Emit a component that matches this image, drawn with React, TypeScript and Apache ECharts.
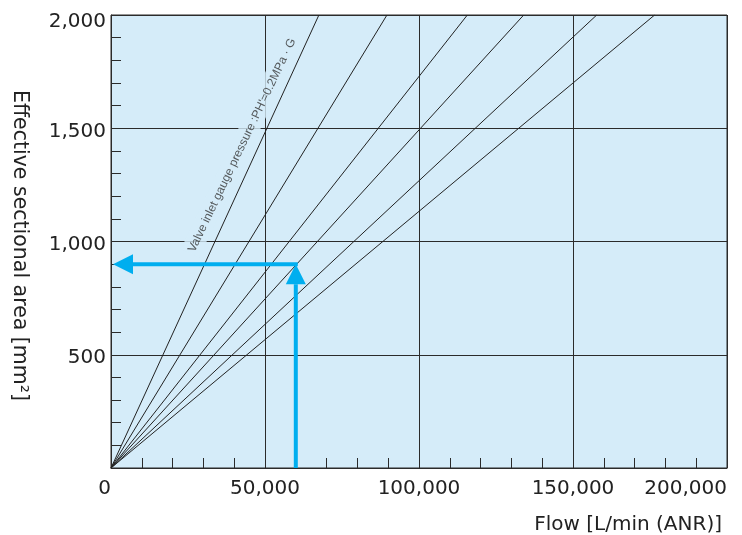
import React, { useEffect, useRef } from "react";
import * as echarts from "echarts";

// Flow [L/min (ANR)] at which each pressure line reaches 2,000 mm² (lines start at origin)
const lineEndFlows = [67500, 89600, 115700, 134000, 157700, 176500];
const lineEndArea = 2000;
// Example reading (arrow): flow 60,000 -> area 900
const exampleFlow = 60000;
const exampleArea = 900;
// Label anchor (data coords) for the rotated annotation
const annotationPos = [42400, 1426];
const annotationText = "Valve inlet gauge pressure :PH'=0.2MPa · G";
const xTicks = [0, 50000, 100000, 150000, 200000];
const yTicks = [0, 500, 1000, 1500, 2000];

const CYAN = "#00aeef";
const DARK = "#2b2b2b";
const BG = "#d5ecf9";
const FONT = "DejaVu Sans";

const fmt = (v: number) => v.toLocaleString("en-US");

export default function App() {
  const ref = useRef<HTMLDivElement>(null);
  useEffect(() => {
    if (!ref.current) return;
    const chart = echarts.init(ref.current, undefined, { renderer: "svg" });
    const lineSeries = lineEndFlows.map((f, i) => ({
      type: "line",
      name: "p" + i,
      data: [
        [0, 0],
        [f, lineEndArea],
      ],
      symbol: "none",
      lineStyle: { color: "#222", width: 1 },
      silent: true,
      z: 3,
    }));
    const yMax = yTicks[yTicks.length - 1];
    chart.setOption({
      animation: false,
      grid: {
        left: 111,
        top: 15,
        right: 15,
        bottom: 67,
        show: true,
        backgroundColor: BG,
        borderColor: DARK,
        borderWidth: 1,
      },
      xAxis: {
        type: "value",
        min: xTicks[0],
        max: xTicks[xTicks.length - 1],
        interval: 50000,
        axisLine: { show: true, lineStyle: { color: DARK, width: 1 } },
        axisTick: { show: true, inside: true, length: 10, lineStyle: { color: DARK } },
        minorTick: { show: true, splitNumber: 5, length: 10, lineStyle: { color: DARK, width: 1 } },
        splitLine: { show: true, lineStyle: { color: DARK, width: 1 } },
        axisLabel: {
          formatter: (v: number) => fmt(v),
          fontFamily: FONT,
          fontSize: 20,
          color: "#222",
          margin: 9,
          alignMinLabel: "right",
          alignMaxLabel: "right",
        },
        name: "Flow [L/min (ANR)]",
        nameLocation: "end",
        nameGap: -5,
        nameTextStyle: {
          fontFamily: FONT,
          fontSize: 20,
          color: "#222",
          align: "right",
          verticalAlign: "top",
          padding: [45, 0, 0, 0],
        },
      },
      yAxis: {
        type: "value",
        min: yTicks[0],
        max: yMax,
        interval: 500,
        axisLine: { show: true, lineStyle: { color: DARK, width: 1 } },
        axisTick: { show: true, inside: true, length: 10, lineStyle: { color: DARK } },
        minorTick: { show: true, splitNumber: 5, length: 10, lineStyle: { color: DARK, width: 1 } },
        splitLine: { show: true, lineStyle: { color: DARK, width: 1 } },
        axisLabel: {
          formatter: (v: number) =>
            v === 0 ? "" : v === yMax ? "{t|" + fmt(v) + "}" : "{n|" + fmt(v) + "}",
          fontFamily: FONT,
          fontSize: 20,
          color: "#222",
          margin: 5,
          rich: {
            t: { fontFamily: FONT, fontSize: 20, color: "#222", padding: [10, 0, 0, 0] },
            n: { fontFamily: FONT, fontSize: 20, color: "#222", padding: [3, 0, 0, 0] },
          },
        },
        name: "Effective sectional area [mm²]",
        nameLocation: "middle",
        nameRotate: -90,
        nameGap: 80,
        nameTextStyle: { fontFamily: FONT, fontSize: 20.5, color: "#222", padding: [0, 0, 0, 8] },
      },
      series: [
        ...lineSeries,
        {
          type: "custom",
          coordinateSystem: "cartesian2d",
          data: [[exampleFlow, exampleArea]],
          clip: false,
          silent: true,
          z: 5,
          renderItem: (params: any, api: any) => {
            const corner = api.coord([api.value(0), api.value(1)]);
            const base = api.coord([api.value(0), 0]);
            const left = api.coord([0, api.value(1)]);
            const head = 20;
            const half = 10;
            const tipX = left[0] + 2;
            return {
              type: "group",
              children: [
                {
                  type: "line",
                  shape: { x1: base[0], y1: base[1], x2: base[0], y2: corner[1] + head },
                  style: { stroke: CYAN, lineWidth: 4 },
                },
                {
                  type: "polygon",
                  shape: {
                    points: [
                      [base[0], corner[1]],
                      [base[0] - half, corner[1] + head],
                      [base[0] + half, corner[1] + head],
                    ],
                  },
                  style: { fill: CYAN },
                },
                {
                  type: "line",
                  shape: { x1: corner[0] + 2, y1: corner[1], x2: tipX + head, y2: corner[1] },
                  style: { stroke: CYAN, lineWidth: 4 },
                },
                {
                  type: "polygon",
                  shape: {
                    points: [
                      [tipX, corner[1]],
                      [tipX + head, corner[1] - half],
                      [tipX + head, corner[1] + half],
                    ],
                  },
                  style: { fill: CYAN },
                },
              ],
            };
          },
        },
        {
          type: "scatter",
          data: [annotationPos],
          symbolSize: 0,
          silent: true,
          z: 4,
          label: {
            show: true,
            position: "inside",
            rotate: 64.5,
            formatter: annotationText,
            fontFamily: "Liberation Sans",
            fontSize: 12,
            color: "#333",
            backgroundColor: BG,
            padding: [4, 2, 4, 2],
          },
        },
      ],
    });
    return () => chart.dispose();
  }, []);
  return (
    <div
      ref={ref}
      style={{ position: "fixed", left: 0, top: 0, width: 742, height: 535 }}
    />
  );
}
